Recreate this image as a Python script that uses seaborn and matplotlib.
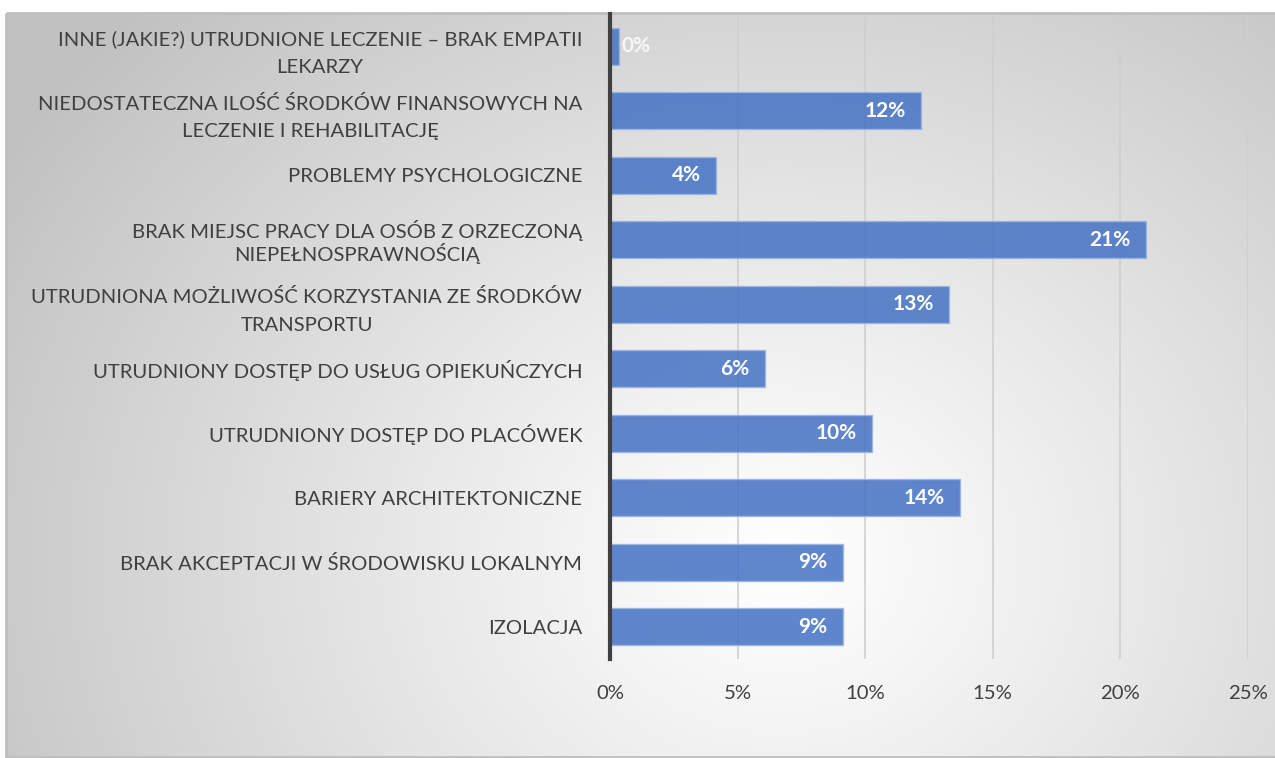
import numpy as np
import matplotlib
matplotlib.use("Agg")
import matplotlib.pyplot as plt
import seaborn as sns
from matplotlib.patches import Rectangle
from matplotlib.ticker import PercentFormatter

categories = [
    "INNE (JAKIE?) UTRUDNIONE LECZENIE – BRAK EMPATII\nLEKARZY",
    "NIEDOSTATECZNA ILOŚĆ ŚRODKÓW FINANSOWYCH NA\nLECZENIE I REHABILITACJĘ",
    "PROBLEMY PSYCHOLOGICZNE",
    "BRAK MIEJSC PRACY DLA OSÓB Z ORZECZONĄ\nNIEPEŁNOSPRAWNOŚCIĄ",
    "UTRUDNIONA MOŻLIWOŚĆ KORZYSTANIA ZE ŚRODKÓW\nTRANSPORTU",
    "UTRUDNIONY DOSTĘP DO USŁUG OPIEKUŃCZYCH",
    "UTRUDNIONY DOSTĘP DO PLACÓWEK",
    "BARIERY ARCHITEKTONICZNE",
    "BRAK AKCEPTACJI W ŚRODOWISKU LOKALNYM",
    "IZOLACJA",
]
shares = [0.0035, 0.122, 0.0415, 0.210, 0.133, 0.0607, 0.1027, 0.137, 0.0913, 0.0913]
x_ticks = [0, 0.05, 0.10, 0.15, 0.20, 0.25]

sns.set_style("white")
plt.rcParams['font.family'] = ['Lato', 'DejaVu Sans']

W, H = 1275, 758
fig = plt.figure(figsize=(W / 100, H / 100), dpi=100)

# gradient background inside the chart frame
bg = fig.add_axes([0, 0, 1, 1], zorder=-10)
yy, xx = np.mgrid[0:H, 0:W]
r = np.sqrt(((xx - 780) / 720.0) ** 2 + ((yy - 560) / 620.0) ** 2)
shade = 1 - 0.24 * np.clip(r / 1.25, 0, 1) ** 1.1
img = np.dstack([shade] * 3)
img[:13, :, :] = 1.0
img[:, :6, :] = 1.0
bg.imshow(img, aspect='auto', extent=[0, W, H, 0])
bg.add_patch(Rectangle((6, 13), W, H - 14, fill=False, edgecolor='#bfbfbf', linewidth=2))
bg.set_xlim(0, W)
bg.set_ylim(H, 0)
bg.axis('off')

ax = fig.add_axes([610 / W, 99 / H, 638 / W, 645 / H])
ax.patch.set_alpha(0)
sns.barplot(x=shares, y=categories, orient='h', color='#4472C4', alpha=0.85,
            width=0.57, edgecolor='#9db4e0', linewidth=1, saturation=1, ax=ax, zorder=3)

ax.set_xlim(0, 0.25)
ax.set_ylim(len(categories) - 0.5, -0.5)
ax.set_xticks(x_ticks)
ax.xaxis.set_major_formatter(PercentFormatter(1.0, decimals=0))
ax.grid(axis='x', color='#cfcfcf', linewidth=1.2, zorder=0)
ax.set_axisbelow(True)
for s in ['top', 'right', 'bottom']:
    ax.spines[s].set_visible(False)
ax.spines['left'].set_color('#404040')
ax.spines['left'].set_linewidth(3)
ax.spines['left'].set_zorder(5)
ax.tick_params(axis='y', length=0, pad=20, labelsize=14.6, labelcolor='#404040')
ax.tick_params(axis='x', length=0, pad=19, labelsize=14.6, labelcolor='#404040')
for lbl in ax.get_yticklabels():
    lbl.set_multialignment('center')
    # a deep descender (Ą) on the first line already widens the gap
    lbl.set_linespacing(1.1 if 'Ą\n' in lbl.get_text() else 1.75)
ax.set_xlabel('')
ax.set_ylabel('')

for p, v in zip(ax.patches, shares):
    y = p.get_y() + p.get_height() / 2
    txt = f"{v * 100:.0f}%"
    if v < 0.02:
        ax.annotate(txt, (p.get_width(), y), xytext=(2, 0), textcoords='offset points',
                    ha='left', va='center', color='white', fontsize=15, fontweight='bold', alpha=0.8)
    else:
        ax.annotate(txt, (p.get_width(), y), xytext=(-11, 0), textcoords='offset points',
                    ha='right', va='center', color='white', fontsize=15, fontweight='bold')

fig.savefig('out.png', dpi=100)
